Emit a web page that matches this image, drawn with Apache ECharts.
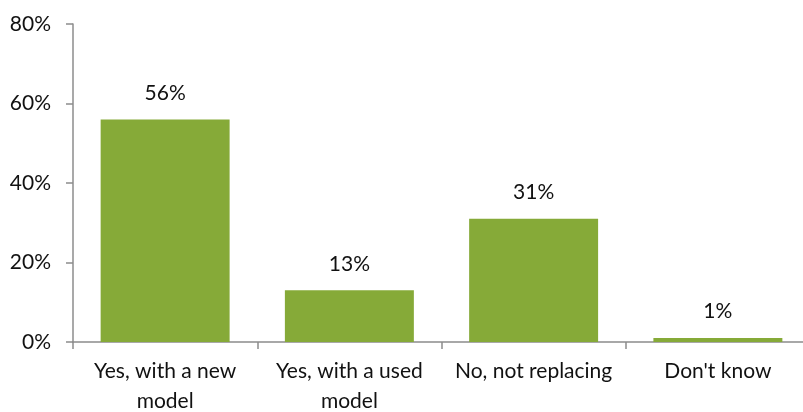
<!DOCTYPE html>
<html>
<head>
<meta charset="utf-8">
<style>
  html, body { margin: 0; padding: 0; background: #ffffff; }
  #chart { width: 803px; height: 412px; }
</style>
<script src="https://cdn.jsdelivr.net/npm/echarts@6/dist/echarts.min.js"></script>
</head>
<body>
<div id="chart"></div>
<script>
// Survey answers and their shares (percent)
const categories = ['Yes, with a new\nmodel', 'Yes, with a used\nmodel', 'No, not replacing', "Don't know"];
const shares = [56, 13, 31, 1];
const yTicks = { min: 0, max: 80, step: 20 };

const FONT = 'Lato, "Open Sans", sans-serif';
const AXIS_GREY = '#8c8c8c';

const chart = echarts.init(document.getElementById('chart'));
chart.setOption({
  animation: false,
  grid: {
    left: 73, right: -7, top: 24, bottom: 70,
    containLabel: false, outerBoundsMode: 'none'
  },
  xAxis: {
    type: 'category',
    data: categories,
    axisLine: { lineStyle: { color: AXIS_GREY, width: 1.5 } },
    axisTick: { show: true, length: 7, lineStyle: { color: AXIS_GREY, width: 1.5 } },
    axisLabel: {
      color: '#111', fontFamily: FONT, fontSize: 21,
      lineHeight: 30, margin: 14, interval: 0
    }
  },
  yAxis: {
    type: 'value',
    min: yTicks.min, max: yTicks.max, interval: yTicks.step,
    axisLine: { show: true, lineStyle: { color: AXIS_GREY, width: 1.5 } },
    axisTick: { show: true, length: 7, lineStyle: { color: AXIS_GREY, width: 1.5 } },
    splitLine: { show: false },
    axisLabel: {
      color: '#111', fontFamily: FONT, fontSize: 21, margin: 22,
      formatter: v => v + '%'
    }
  },
  series: [{
    type: 'bar',
    data: shares,
    barCategoryGap: '30%',
    itemStyle: { color: '#86aa38' },
    label: {
      show: true, position: 'top', distance: 16,
      color: '#111', fontFamily: FONT, fontSize: 21,
      formatter: p => p.value + '%'
    }
  }]
});
</script>
</body>
</html>
